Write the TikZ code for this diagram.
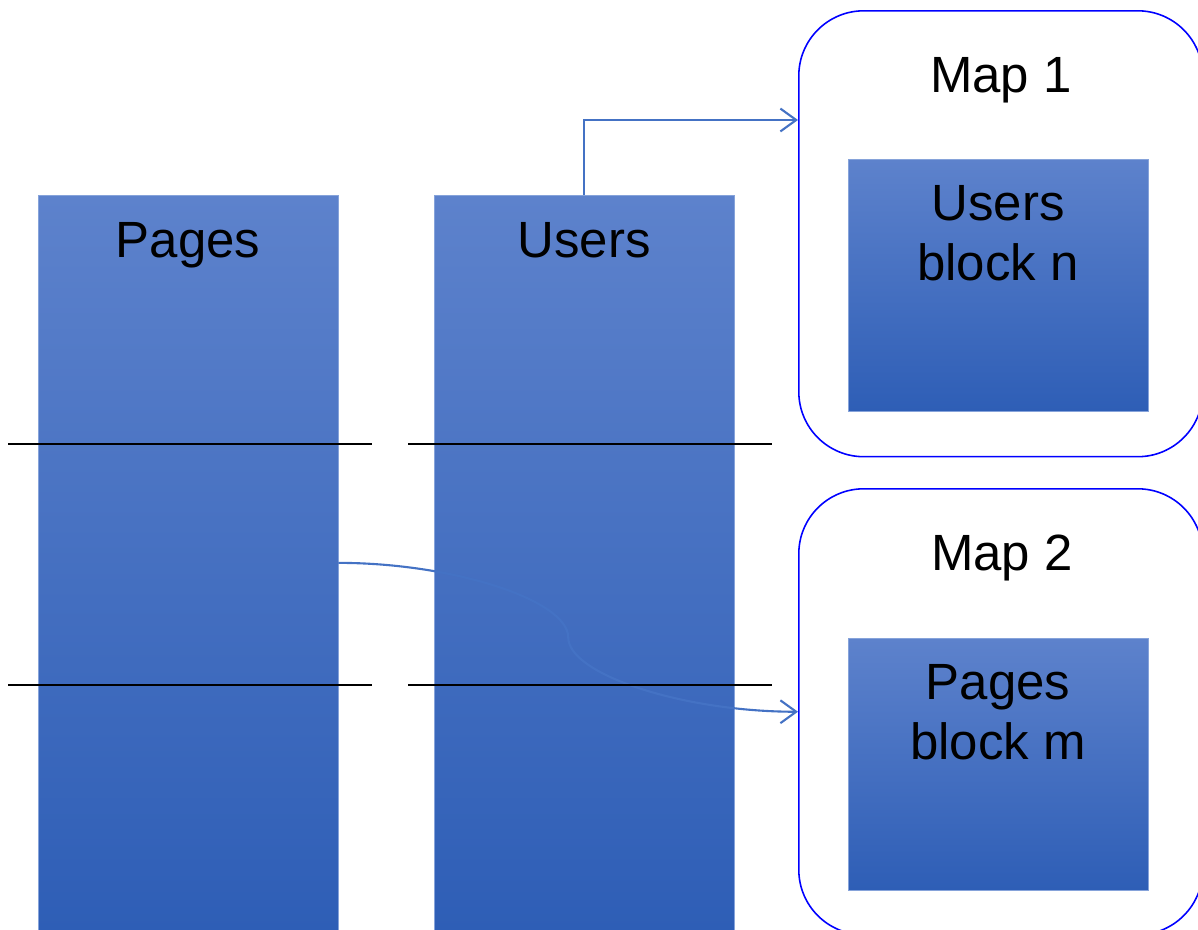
\documentclass[tikz,border=0pt]{standalone}
\usepackage{fontspec}
\setmainfont{Liberation Sans}
\usetikzlibrary{arrows.meta,positioning,calc}
\definecolor{coltop}{HTML}{5D82CC}
\definecolor{colbot}{HTML}{2E5EB6}
\definecolor{colbord}{HTML}{86A3DA}
\definecolor{linkblue}{HTML}{4472C4}
\tikzset{
	column/.style={draw=colbord, line width=0.5pt, top color=coltop, bottom color=colbot,
		minimum width=6cm, minimum height=14.7cm, inner sep=0pt, anchor=north},
	block/.style={column, minimum height=5.04cm},
	mapbox/.style={draw=blue, line width=0.9pt, rounded corners=1.3cm,
		minimum width=8.08cm, minimum height=8.92cm, inner sep=0pt, anchor=north west},
	txt/.style={font=\fontsize{29}{34}\selectfont, inner sep=0pt, align=center},
	link/.style={linkblue, line width=1.2pt, -{Straight Barb[length=9pt,width=13pt,line width=1.2pt]}},
	sep/.style={black, line width=1.2pt}
}
\begin{document}
\begin{tikzpicture}[x=0.02cm, y=-0.02cm]
		\useasboundingbox (0,0) rectangle (1198,930);
		\clip (0,0) rectangle (1198,930);
		% Columns
		\node[column] (pages) at (188,195) {};
		\node[column] (users) at (584,195) {};
		\node[txt, anchor=base] (pageslbl) at (188,257) {Pages};
		\node[txt, anchor=base] (userslbl) at (584,257) {Users};
		
		% Maps
		\node[mapbox] (map1) at (798,10) {};
		\node[mapbox] (map2) at (798,488) {};
		\node[txt, anchor=base] (map1lbl) at (1001,92) {Map 1};
		\node[txt, anchor=base] (map2lbl) at (1002,570) {Map 2};
		\node[block] (ublock) at (998,159) {};
		\node[block] (pblock) at (998,638) {};
		\node[txt, anchor=north] (ublocklbl) at (998,185) {Users\\block n};
		\node[txt, anchor=north] (pblocklbl) at (998,664) {Pages\\block m};
		
		% Links
		\coordinate (map1in) at (map1.west |- 0,120);
		\coordinate (bend) at ($(pages.east)!0.5!(map2.west)$);
		\draw[link] (users.north) |- (map1in);
		\draw[link] (pages.east) .. controls +(115,0) and +(0,-37) .. (bend)
			.. controls +(0,37) and +(-115,0) .. (map2.west);
		
		% Separators
		\foreach \y in {444,685} {
			\draw[sep] (8,\y) -- (372,\y);
			\draw[sep] (408,\y) -- (772,\y);
		}
	\end{tikzpicture}
\end{document}
